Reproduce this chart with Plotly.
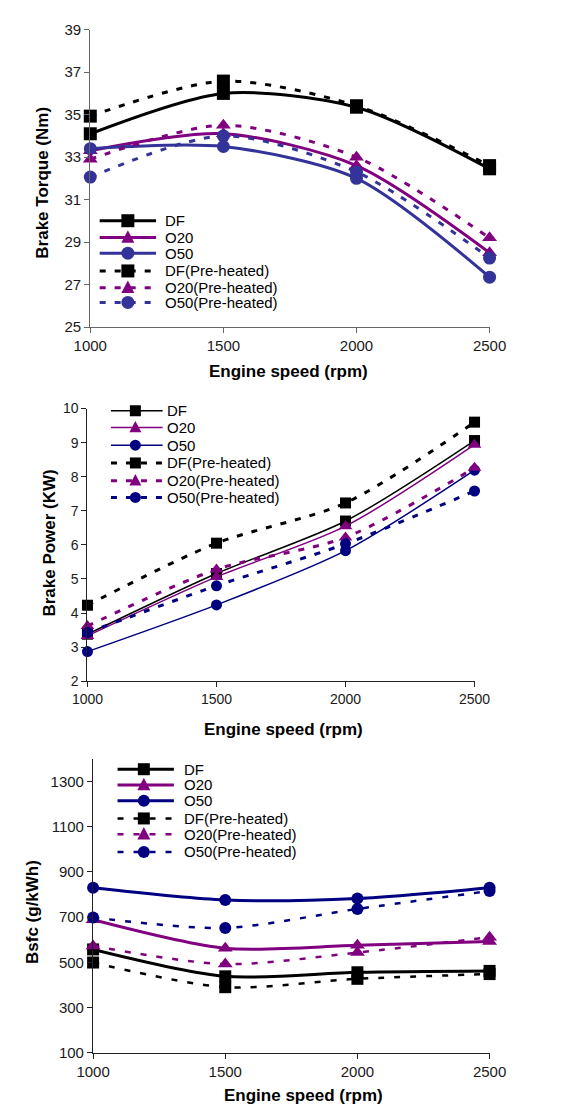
import plotly.graph_objects as go

W, H = 562, 1113

# ---- data -----------------------------------------------------------------
speed = [1000, 1500, 2000, 2500]

torque_df = [34.1, 36.0, 35.35, 32.45]
torque_o20 = [33.3, 34.1, 32.6, 28.5]
torque_o50 = [33.4, 33.5, 32.0, 27.35]
torque_df_ph = [34.93, 36.58, 35.42, 32.6]
torque_o20_ph = [32.9, 34.5, 33.0, 29.2]
torque_o50_ph = [32.06, 34.0, 32.3, 28.25]

power_df = [3.38, 5.16, 6.70, 9.06]
power_o20 = [3.33, 5.06, 6.55, 8.94]
power_o50 = [2.87, 4.24, 5.83, 8.19]
power_df_ph = [4.23, 6.05, 7.23, 9.60]
power_o20_ph = [3.62, 5.28, 6.22, 8.26]
power_o50_ph = [3.43, 4.80, 6.03, 7.58]

bsfc_df = [557, 438, 456, 462]
bsfc_o20 = [688, 562, 575, 592]
bsfc_o50 = [829, 775, 782, 830]
bsfc_df_ph = [499, 390, 427, 448]
bsfc_o20_ph = [572, 492, 543, 611]
bsfc_o50_ph = [698, 652, 736, 815]

series_names = ["DF", "O20", "O50", "DF(Pre-heated)", "O20(Pre-heated)", "O50(Pre-heated)"]

FONT = "Liberation Sans, Arial, sans-serif"
BLACK = "#000000"
PURPLE = "#800080"
SLATE = "#333399"
NAVY = "#000080"


def px_x(p):
    return p / W


def px_y(p):
    return 1 - p / H


# panel settings: plot box in pixels, ranges, styling
panels = [
    dict(
        box=(78, 503, 21, 323), yrange=[25, 39], ytickvals=list(range(25, 40, 2)),
        data=[torque_df, torque_o20, torque_o50, torque_df_ph, torque_o20_ph, torque_o50_ph],
        colors=[BLACK, PURPLE, SLATE, BLACK, PURPLE, SLATE],
        solid_w=3, dash_w=3, dash="6px,9px",
        msize={"square": 13, "triangle-up": 13, "circle": 13},
        axis_color="#666666", tick_size=15,
        ytitle="Brake Torque (Nm)", ytitle_xy=(27, 176), xtitle_xy=(289, 368),
        leg=dict(x0=88, x1=148, xm=118, xt=156, rows=[215, 232, 248, 266, 283, 298], fs=15),
    ),
    dict(
        box=(75, 487, 405.7, 682.7), yrange=[2, 10], ytickvals=list(range(2, 11)),
        data=[power_df, power_o20, power_o50, power_df_ph, power_o20_ph, power_o50_ph],
        colors=[BLACK, PURPLE, NAVY, BLACK, PURPLE, NAVY],
        solid_w=1.5, dash_w=3, dash="6px,9px",
        msize={"square": 11, "triangle-up": 12, "circle": 11},
        axis_color="#222222", tick_size=14,
        ytitle="Brake Power (KW)", ytitle_xy=(35, 542), xtitle_xy=(284, 732),
        leg=dict(x0=100, x1=155, xm=126, xt=159, rows=[408, 425, 443, 461, 479, 496], fs=15),
    ),
    dict(
        box=(81, 503, 761.3, 1060), yrange=[100, 1400], ytickvals=list(range(100, 1400, 200)),
        data=[bsfc_df, bsfc_o20, bsfc_o50, bsfc_df_ph, bsfc_o20_ph, bsfc_o50_ph],
        colors=[BLACK, PURPLE, NAVY, BLACK, PURPLE, NAVY],
        solid_w=3, dash_w=2.5, dash="6px,10px",
        msize={"square": 12, "triangle-up": 13, "circle": 12},
        axis_color="#222222", tick_size=15,
        ytitle="Bsfc (g/kWh)", ytitle_xy=(17, 917), xtitle_xy=(305, 1103),
        leg=dict(x0=107, x1=167, xm=135, xt=177, rows=[772, 788, 804, 822, 838, 856], fs=15),
    ),
]

symbols = ["square", "triangle-up", "circle", "square", "triangle-up", "circle"]

fig = go.Figure()
shapes = []
annotations = []

for i, p in enumerate(panels, start=1):
    xa = "x" if i == 1 else f"x{i}"
    ya = "y" if i == 1 else f"y{i}"
    xl, xr, yt, yb = p["box"]

    for k, (name, yvals) in enumerate(zip(series_names, p["data"])):
        dashed = k >= 3
        fig.add_trace(go.Scatter(
            x=speed, y=yvals, name=name, xaxis=xa, yaxis=ya,
            mode="lines+markers", showlegend=False, cliponaxis=False,
            line=dict(color=p["colors"][k], width=p["dash_w"] if dashed else p["solid_w"],
                      dash=p["dash"] if dashed else "solid", shape="spline", smoothing=0.8),
            marker=dict(symbol=symbols[k], size=p["msize"][symbols[k]], color=p["colors"][k]),
        ))

    axis_common = dict(
        showline=True, linecolor=p["axis_color"], linewidth=1.3, ticks="outside",
        ticklen=5, tickcolor=p["axis_color"], showgrid=False, zeroline=False,
        tickfont=dict(family=FONT, size=p["tick_size"], color="#1a1a1a"),
    )
    fig.layout[("xaxis" if i == 1 else f"xaxis{i}")] = dict(
        domain=[px_x(xl), px_x(xr)], range=[1000, 2500], anchor=ya,
        tickvals=speed, **axis_common,
    )
    fig.layout[("yaxis" if i == 1 else f"yaxis{i}")] = dict(
        domain=[px_y(yb), px_y(yt)], range=p["yrange"], anchor=xa,
        tickvals=p["ytickvals"], **axis_common,
    )

    # axis titles
    tx, ty = p["xtitle_xy"]
    annotations.append(dict(
        text="<b>Engine speed (rpm)</b>", xref="paper", yref="paper",
        x=px_x(tx), y=px_y(ty), showarrow=False, xanchor="center", yanchor="middle",
        font=dict(family=FONT, size=17, color=BLACK),
    ))
    tx, ty = p["ytitle_xy"]
    annotations.append(dict(
        text=f"<b>{p['ytitle']}</b>", xref="paper", yref="paper", textangle=-90,
        x=px_x(tx), y=px_y(ty), showarrow=False, xanchor="center", yanchor="middle",
        font=dict(family=FONT, size=17, color=BLACK),
    ))

    # legend: sample line, marker and label for each series
    lg = p["leg"]
    for k, name in enumerate(series_names):
        dashed = k >= 3
        col = p["colors"][k]
        ry = px_y(lg["rows"][k])
        shapes.append(dict(
            type="line", xref="paper", yref="paper",
            x0=px_x(lg["x0"]), x1=px_x(lg["x1"]), y0=ry, y1=ry,
            line=dict(color=col, width=p["dash_w"] if dashed else p["solid_w"],
                      dash=p["dash"] if dashed else "solid"),
        ))
        ms = p["msize"][symbols[k]]
        h = ms / 2
        common = dict(xref="paper", yref="paper", xsizemode="pixel", ysizemode="pixel",
                      xanchor=px_x(lg["xm"]), yanchor=ry,
                      fillcolor=col, line=dict(color=col, width=0))
        if symbols[k] == "square":
            shapes.append(dict(type="rect", x0=-h, x1=h, y0=-h, y1=h, **common))
        elif symbols[k] == "circle":
            shapes.append(dict(type="circle", x0=-h, x1=h, y0=-h, y1=h, **common))
        else:
            shapes.append(dict(type="path",
                               path=f"M{-h},{-h * 0.8} L{h},{-h * 0.8} L0,{h * 1.1} Z",
                               **common))
        annotations.append(dict(
            text=name, xref="paper", yref="paper", x=px_x(lg["xt"]), y=ry,
            showarrow=False, xanchor="left", yanchor="middle", borderpad=0,
            font=dict(family=FONT, size=lg["fs"], color=BLACK),
        ))

fig.update_layout(
    width=W, height=H, margin=dict(l=0, r=0, t=0, b=0),
    paper_bgcolor="white", plot_bgcolor="white",
    shapes=shapes, annotations=annotations, showlegend=False,
)

fig.write_html("out.html")
